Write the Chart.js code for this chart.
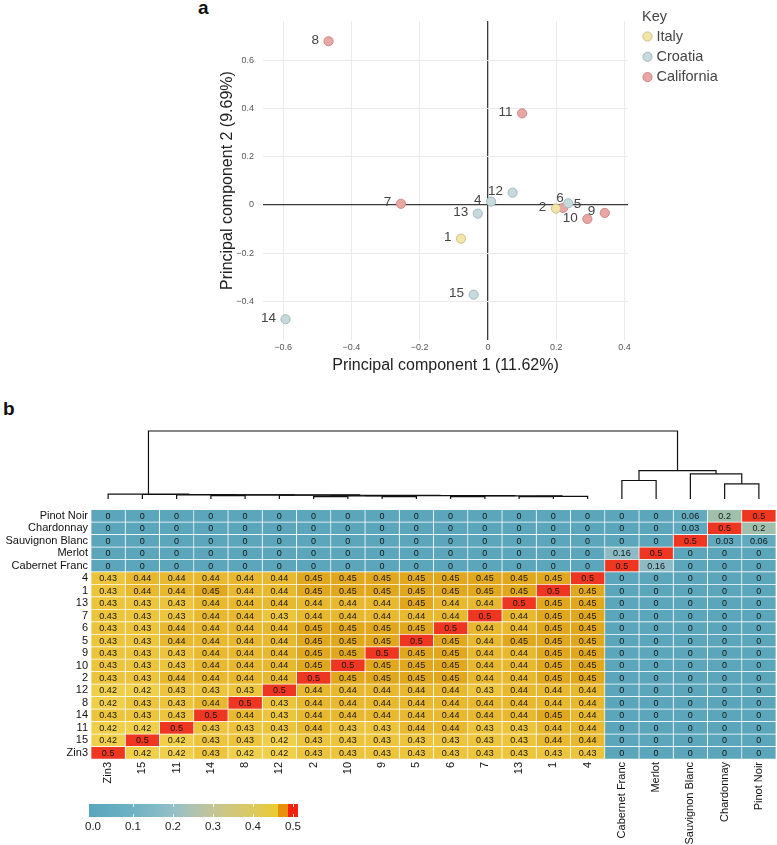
<!DOCTYPE html>
<html><head><meta charset="utf-8">
<script src="https://cdn.jsdelivr.net/npm/chart.js@4.4.0/dist/chart.umd.min.js"></script>
<style>
html,body{margin:0;padding:0;background:#fff;}
body{width:777px;height:845px;position:relative;overflow:hidden;font-family:"Liberation Sans",Arial,sans-serif;}
.panel{position:absolute;font-weight:bold;font-size:19px;color:#111;line-height:1;}
.box{position:absolute;}
</style></head><body>
<div class="panel" style="left:198px;top:-2px;">a</div>
<div class="panel" style="left:3px;top:399px;">b</div>
<div class="box" style="left:0;top:0;width:777px;height:375px"><canvas id="pca"></canvas></div>
<div class="box" style="left:0;top:395px;width:777px;height:108px"><canvas id="dendro"></canvas></div>
<div class="box" style="left:0;top:500px;width:777px;height:345px"><canvas id="heat"></canvas></div>
<div class="box" style="left:40px;top:795px;width:300px;height:45px"><canvas id="cbar"></canvas></div>
<script>
// ---------- Panel a: PCA ----------
const regions = ['Italy', 'Croatia', 'California'];
const italyIds = ['1', '2'];
const italyPC1 = [-0.079, 0.199];
const italyPC2 = [-0.140, -0.015];
const croatiaIds = ['4', '5', '12', '13', '14', '15'];
const croatiaPC1 = [0.009, 0.235, 0.072, -0.030, -0.593, -0.042];
const croatiaPC2 = [0.014, 0.007, 0.051, -0.036, -0.474, -0.372];
const californiaIds = ['6', '7', '8', '9', '10', '11'];
const californiaPC1 = [0.220, -0.255, -0.467, 0.342, 0.291, 0.100];
const californiaPC2 = [-0.012, 0.005, 0.679, -0.033, -0.058, 0.380];
const pc1Ticks = [-0.6, -0.4, -0.2, 0, 0.2, 0.4];
const pc2Ticks = [-0.4, -0.2, 0, 0.2, 0.4, 0.6];

// ---------- Panel b: heatmap ----------
const rowLabels = ['Pinot Noir','Chardonnay','Sauvignon Blanc','Merlot','Cabernet Franc','4','1','13','7','6','5','9','10','2','12','8','14','11','15','Zin3'];
const colLabels = ['Zin3','15','11','14','8','12','2','10','9','5','6','7','13','1','4','Cabernet Franc','Merlot','Sauvignon Blanc','Chardonnay','Pinot Noir'];
const rowPinotNoir     = [0,0,0,0,0,0,0,0,0,0,0,0,0,0,0, 0,0,0.06,0.2,0.5];
const rowChardonnay    = [0,0,0,0,0,0,0,0,0,0,0,0,0,0,0, 0,0,0.03,0.5,0.2];
const rowSauvignon     = [0,0,0,0,0,0,0,0,0,0,0,0,0,0,0, 0,0,0.5,0.03,0.06];
const rowMerlot        = [0,0,0,0,0,0,0,0,0,0,0,0,0,0,0, 0.16,0.5,0,0,0];
const rowCabFranc      = [0,0,0,0,0,0,0,0,0,0,0,0,0,0,0, 0.5,0.16,0,0,0];
const row4   = [0.43,0.44,0.44,0.44,0.44,0.44,0.45,0.45,0.45,0.45,0.45,0.45,0.45,0.45,0.5, 0,0,0,0,0];
const row1   = [0.43,0.44,0.44,0.45,0.44,0.44,0.45,0.45,0.45,0.45,0.45,0.45,0.45,0.5,0.45, 0,0,0,0,0];
const row13  = [0.43,0.43,0.43,0.44,0.44,0.44,0.44,0.44,0.44,0.45,0.44,0.44,0.5,0.45,0.45, 0,0,0,0,0];
const row7   = [0.43,0.43,0.43,0.44,0.44,0.43,0.44,0.44,0.44,0.44,0.44,0.5,0.44,0.45,0.45, 0,0,0,0,0];
const row6   = [0.43,0.43,0.44,0.44,0.44,0.44,0.45,0.45,0.45,0.45,0.5,0.44,0.44,0.45,0.45, 0,0,0,0,0];
const row5   = [0.43,0.43,0.44,0.44,0.44,0.44,0.45,0.45,0.45,0.5,0.45,0.44,0.45,0.45,0.45, 0,0,0,0,0];
const row9   = [0.43,0.43,0.43,0.44,0.44,0.44,0.45,0.45,0.5,0.45,0.45,0.44,0.44,0.45,0.45, 0,0,0,0,0];
const row10  = [0.43,0.43,0.43,0.44,0.44,0.44,0.45,0.5,0.45,0.45,0.45,0.44,0.44,0.45,0.45, 0,0,0,0,0];
const row2   = [0.43,0.43,0.44,0.44,0.44,0.44,0.5,0.45,0.45,0.45,0.45,0.44,0.44,0.45,0.45, 0,0,0,0,0];
const row12  = [0.42,0.42,0.43,0.43,0.43,0.5,0.44,0.44,0.44,0.44,0.44,0.43,0.44,0.44,0.44, 0,0,0,0,0];
const row8   = [0.42,0.43,0.43,0.44,0.5,0.43,0.44,0.44,0.44,0.44,0.44,0.44,0.44,0.44,0.44, 0,0,0,0,0];
const row14  = [0.43,0.43,0.43,0.5,0.44,0.43,0.44,0.44,0.44,0.44,0.44,0.44,0.44,0.45,0.44, 0,0,0,0,0];
const row11  = [0.42,0.42,0.5,0.43,0.43,0.43,0.44,0.43,0.43,0.44,0.44,0.43,0.43,0.44,0.44, 0,0,0,0,0];
const row15  = [0.42,0.5,0.42,0.43,0.43,0.42,0.43,0.43,0.43,0.43,0.43,0.43,0.43,0.44,0.44, 0,0,0,0,0];
const rowZin3= [0.5,0.42,0.42,0.43,0.42,0.42,0.43,0.43,0.43,0.43,0.43,0.43,0.43,0.43,0.43, 0,0,0,0,0];
const heatRows = [rowPinotNoir,rowChardonnay,rowSauvignon,rowMerlot,rowCabFranc,row4,row1,row13,row7,row6,row5,row9,row10,row2,row12,row8,row14,row11,row15,rowZin3];

// dendrogram merges over columns: [left, right, height]; 0..19 = columns, 20+k = k-th merge
const dendroMerges = [
  [6,7,0.035],[8,9,0.035],[20,21,0.045],[10,11,0.035],[12,13,0.035],[24,14,0.04],
  [23,25,0.045],[22,26,0.05],[3,4,0.05],[5,27,0.055],[28,29,0.06],[2,30,0.062],
  [1,31,0.066],[0,32,0.073],[15,16,0.272],[18,19,0.223],[17,35,0.369],[34,36,0.417],[33,37,1.0]
];
const colorbarTicks = [0, 0.1, 0.2, 0.3, 0.4, 0.5];

// ---------- styles ----------
const FONT = '"Liberation Sans", Arial, Helvetica, sans-serif';
Chart.defaults.font.family = FONT;
Chart.defaults.animation = false;
Chart.defaults.events = [];
Chart.defaults.plugins.legend.display = false;
Chart.defaults.plugins.tooltip.enabled = false;

const regionStyle = {
  Italy: {fill: '#f1e5a7', stroke: '#cdc08a'},
  Croatia: {fill: '#c6dadd', stroke: '#a3b9bd'},
  California: {fill: '#e8a6a4', stroke: '#cb8a88'}
};
const labelNudge = {'6': {dx: -3, dy: -10, align: 'center'}, '5': {dx: 1, dy: 1, align: 'left'}, '9': {dx: -5, dy: -2, align: 'right'}};
const cellStops = [
  [0.00, [91,166,187]], [0.06, [98,170,190]], [0.16, [141,187,197]], [0.20, [160,192,173]],
  [0.30, [200,196,128]], [0.40, [236,210,82]], [0.42, [240,207,74]], [0.43, [237,197,61]],
  [0.44, [232,184,46]], [0.45, [226,168,29]], [0.47, [232,135,15]], [0.49, [238,62,30]], [0.50, [238,54,32]]
];
const colorbarStops = [
  [-0.01,'#59a6bc'],[0.0,'#5aa7bd'],[0.1,'#6fb1c4'],[0.2,'#93c0c8'],[0.25,'#aec3b0'],[0.3,'#c3c594'],
  [0.4,'#dcc95e'],[0.4625,'#ebcb2e'],[0.4625,'#e8900e'],[0.4875,'#e8900e'],[0.4875,'#f3220f'],[0.5125,'#f3220f']
];
function cellColor(v) {
  for (let i = 1; i < cellStops.length; i++) {
    if (v <= cellStops[i][0]) {
      const [a, ca] = cellStops[i-1], [b, cb] = cellStops[i];
      const t = (v - a) / (b - a);
      const c = ca.map((x, k) => Math.round(x + (cb[k] - x) * t));
      return `rgb(${c[0]},${c[1]},${c[2]})`;
    }
  }
  const c = cellStops[cellStops.length-1][1];
  return `rgb(${c[0]},${c[1]},${c[2]})`;
}
const fmtTick = v => (Math.abs(v) < 1e-9 ? '0' : (v < 0 ? '\u2212' + Math.abs(v).toFixed(1) : v.toFixed(1)));

// ---------- chart a ----------
function pts(xs, ys) { return xs.map((x, i) => ({x: x, y: ys[i]})); }
const pcaSets = [
  {label: 'Italy', ids: italyIds, data: pts(italyPC1, italyPC2)},
  {label: 'Croatia', ids: croatiaIds, data: pts(croatiaPC1, croatiaPC2)},
  {label: 'California', ids: californiaIds, data: pts(californiaPC1, californiaPC2)}
].map(d => Object.assign(d, {
  backgroundColor: regionStyle[d.label].fill, borderColor: regionStyle[d.label].stroke,
  borderWidth: 1, pointRadius: 4.6
}));

const pointLabelPlugin = {
  id: 'pointLabels',
  afterDatasetsDraw(chart) {
    const ctx = chart.ctx;
    ctx.save();
    ctx.font = '13.5px ' + FONT;
    ctx.fillStyle = '#444';
    ctx.textBaseline = 'middle';
    chart.data.datasets.forEach((ds, di) => {
      chart.getDatasetMeta(di).data.forEach((el, i) => {
        const id = ds.ids[i];
        const n = labelNudge[id] || {dx: -5, dy: -1, align: 'right'};
        ctx.textAlign = n.align;
        const off = n.align === 'right' ? -4.6 : (n.align === 'left' ? 4.6 : 0);
        ctx.fillText(id, el.x + off + n.dx, el.y + n.dy);
      });
    });
    // legend "Key"
    const lx = 642, ly = 17;
    ctx.textAlign = 'left';
    ctx.font = '14.5px ' + FONT;
    ctx.fillStyle = '#444';
    ctx.fillText('Key', lx, ly);
    chart.data.datasets.forEach((ds, di) => {
      const y = 36.5 + di * 20.3;
      ctx.beginPath();
      ctx.arc(lx + 5.5, y, 4.6, 0, Math.PI * 2);
      ctx.fillStyle = ds.backgroundColor; ctx.fill();
      ctx.lineWidth = 1; ctx.strokeStyle = ds.borderColor; ctx.stroke();
      ctx.fillStyle = '#444';
      ctx.fillText(ds.label, lx + 14.5, y);
    });
    ctx.restore();
  }
};

const zeroAware = {
  color: c => (c.tick && Math.abs(c.tick.value) < 1e-9 ? '#3a3a3a' : '#ebebeb'),
  lineWidth: c => (c.tick && Math.abs(c.tick.value) < 1e-9 ? 1.3 : 1),
  drawTicks: false
};

new Chart(document.getElementById('pca'), {
  type: 'scatter',
  data: {datasets: pcaSets},
  options: {
    responsive: true, maintainAspectRatio: false,
    layout: {padding: {left: 218, top: 21, right: 149, bottom: 0}},
    scales: {
      x: {
        type: 'linear', min: -0.659, max: 0.41,
        afterBuildTicks: s => { s.ticks = pc1Ticks.map(v => ({value: v})); },
        afterFit: s => { s.height = 35; },
        ticks: {callback: v => fmtTick(v), font: {size: 9}, color: '#555', padding: 2, maxRotation: 0, autoSkip: false},
        grid: zeroAware, border: {display: false},
        title: {display: true, text: 'Principal component 1 (11.62%)', font: {size: 16}, color: '#222', padding: 0}
      },
      y: {
        type: 'linear', min: -0.56, max: 0.763,
        afterBuildTicks: s => { s.ticks = pc2Ticks.map(v => ({value: v})); },
        afterFit: s => { s.width = 45; },
        ticks: {callback: v => fmtTick(v), font: {size: 9}, color: '#555', padding: 9, autoSkip: false},
        grid: zeroAware, border: {display: false},
        title: {display: true, text: 'Principal component 2 (9.69%)', font: {size: 16}, color: '#222', padding: 0}
      }
    }
  },
  plugins: [pointLabelPlugin]
});

// ---------- dendrogram ----------
const nodeX = [], nodeH = [];
colLabels.forEach((c, i) => { nodeX.push(i + 0.5); nodeH.push(0); });
const dendroSegments = [];
dendroMerges.forEach(([l, r, h]) => {
  dendroSegments.push([{x: nodeX[l], y: nodeH[l]}, {x: nodeX[l], y: h}, {x: nodeX[r], y: h}, {x: nodeX[r], y: nodeH[r]}]);
  nodeX.push((nodeX[l] + nodeX[r]) / 2); nodeH.push(h);
});
new Chart(document.getElementById('dendro'), {
  type: 'scatter',
  data: {datasets: dendroSegments.map(seg => ({data: seg, showLine: true, borderColor: '#111', borderWidth: 1.2, pointRadius: 0, clip: false, tension: 0}))},
  options: {
    responsive: true, maintainAspectRatio: false,
    layout: {padding: {left: 91, right: 1, top: 36, bottom: 4}},
    scales: {x: {display: false, min: 0, max: 20}, y: {display: false, min: 0, max: 1}}
  }
});

// ---------- heatmap ----------
const cellTextPlugin = {
  id: 'cellText',
  afterDatasetsDraw(chart) {
    const ctx = chart.ctx;
    ctx.save();
    ctx.font = '9px ' + FONT;
    ctx.fillStyle = '#141414';
    ctx.textAlign = 'center';
    ctx.textBaseline = 'middle';
    chart.data.datasets.forEach((ds, di) => {
      chart.getDatasetMeta(di).data.forEach((el, i) => {
        ctx.fillText(String(ds.cellValues[i]), (el.x + el.base) / 2, el.y + 0.5);
      });
    });
    ctx.restore();
  }
};
new Chart(document.getElementById('heat'), {
  type: 'bar',
  data: {
    labels: rowLabels,
    datasets: colLabels.map((col, c) => ({
      label: col,
      data: rowLabels.map(() => 1),
      cellValues: heatRows.map(r => r[c]),
      backgroundColor: heatRows.map(r => cellColor(r[c])),
      borderColor: '#ffffff', borderWidth: 0.7, borderSkipped: false,
      barPercentage: 1, categoryPercentage: 1, stack: 'cells'
    }))
  },
  options: {
    indexAxis: 'y', responsive: true, maintainAspectRatio: false,
    layout: {padding: {top: 4, right: 1, left: 0, bottom: 0}},
    scales: {
      x: {
        type: 'linear', stacked: true, min: 0, max: 20,
        afterBuildTicks: s => { s.ticks = colLabels.map((l, i) => ({value: i + 0.5})); },
        afterFit: s => { s.height = 86; },
        ticks: {autoSkip: false, minRotation: 90, maxRotation: 90, callback: (v, i) => colLabels[i], font: {size: 11}, color: '#111', padding: 3},
        grid: {display: false, drawTicks: false}, border: {display: false}
      },
      y: {
        type: 'category', stacked: true,
        afterFit: s => { s.width = 91; },
        ticks: {autoSkip: false, font: {size: 11}, color: '#111', padding: 3},
        grid: {display: false, drawTicks: false}, border: {display: false}
      }
    }
  },
  plugins: [cellTextPlugin]
});

// ---------- colorbar ----------
const gradientPlugin = {
  id: 'gradientBar',
  beforeDatasetsDraw(chart) {
    const ctx = chart.ctx, xs = chart.scales.x, a = chart.chartArea;
    const x0 = xs.getPixelForValue(colorbarStops[0][0]);
    const x1 = xs.getPixelForValue(colorbarStops[colorbarStops.length - 1][0]);
    const g = ctx.createLinearGradient(x0, 0, x1, 0);
    colorbarStops.forEach(([v, c]) => g.addColorStop(Math.min(1, Math.max(0, (xs.getPixelForValue(v) - x0) / (x1 - x0))), c));
    ctx.save();
    ctx.fillStyle = g;
    ctx.fillRect(x0, a.top, x1 - x0, a.bottom - a.top);
    ctx.strokeStyle = 'rgba(255,255,255,0.85)';
    ctx.lineWidth = 1;
    colorbarTicks.slice(1).forEach(v => {
      const px = Math.round(xs.getPixelForValue(v)) + 0.5;
      ctx.beginPath(); ctx.moveTo(px, a.top); ctx.lineTo(px, a.top + 3);
      ctx.moveTo(px, a.bottom - 3); ctx.lineTo(px, a.bottom); ctx.stroke();
    });
    ctx.restore();
  }
};
new Chart(document.getElementById('cbar'), {
  type: 'scatter',
  data: {datasets: []},
  options: {
    responsive: true, maintainAspectRatio: false,
    layout: {padding: {left: 53, right: 47, top: 9, bottom: 0}},
    scales: {
      x: {
        type: 'linear', min: 0, max: 0.5,
        afterBuildTicks: s => { s.ticks = colorbarTicks.map(v => ({value: v})); },
        afterFit: s => { s.height = 23; },
        ticks: {callback: v => v.toFixed(1), font: {size: 11.5}, color: '#222', padding: 3, maxRotation: 0, autoSkip: false},
        grid: {display: false, drawTicks: false}, border: {display: false}
      },
      y: {display: false, min: 0, max: 1}
    }
  },
  plugins: [gradientPlugin]
});
</script>
</body></html>
